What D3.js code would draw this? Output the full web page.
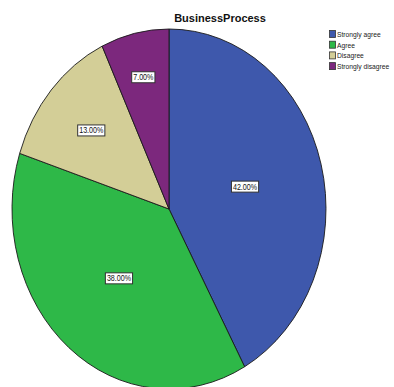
<!DOCTYPE html>
<html>
<head>
<meta charset="utf-8">
<script src="https://cdn.jsdelivr.net/npm/d3@7"></script>
<style>
  html, body { margin: 0; padding: 0; background: #fff; }
  svg { display: block; }
</style>
</head>
<body>
<svg id="chart" width="394" height="387"></svg>
<script>
// Response categories and their share of answers (percent)
const categories = ["Strongly agree", "Agree", "Disagree", "Strongly disagree"];
const percents = [42, 38, 13, 7];
const colors = ["#3e58ac", "#2eb848", "#d3ce97", "#7c287d"];
const title = "BusinessProcess";

const svg = d3.select("#chart");

// Pie geometry: the pie is drawn as an ellipse (taller than wide)
const cx = 169, cy = 209, rx = 157, ry = 180;
// radial position of each value label, as a fraction of the radius
const labelR = [0.5, 0.5, 0.66, 0.75];
// horizontal squeeze that gives the small texts a condensed look
const squeeze = 0.84;

const data = categories.map((c, i) => ({ cat: c, value: percents[i], color: colors[i], lr: labelR[i] }));

const pie = d3.pie().value(d => d.value).sort(null);
const arcs = pie(data);
const arc = d3.arc().innerRadius(0).outerRadius(rx);

const g = svg.append("g")
  .attr("transform", `translate(${cx},${cy}) scale(1,${ry / rx})`);

g.selectAll("path")
  .data(arcs)
  .join("path")
  .attr("d", arc)
  .attr("fill", d => d.data.color)
  .attr("stroke", "#1a1a1a")
  .attr("stroke-width", 0.9)
  .attr("vector-effect", "non-scaling-stroke");

// Value labels in white boxes
const fmt = v => v.toFixed(2) + "%";
const labels = svg.append("g")
  .style("font-family", "'Liberation Sans', Arial, sans-serif")
  .style("font-size", "8.5px");

arcs.forEach(a => {
  const mid = (a.startAngle + a.endAngle) / 2;
  const f = a.data.lr;
  const x = cx + rx * f * Math.sin(mid);
  const y = cy - ry * f * Math.cos(mid);
  const lg = labels.append("g").attr("transform", `translate(${x},${y})`);
  const t = lg.append("text")
    .attr("text-anchor", "middle")
    .attr("dy", "0.35em")
    .attr("transform", `scale(${squeeze},1)`)
    .attr("fill", "#111")
    .text(fmt(a.data.value));
  const bb = t.node().getBBox();
  const w = bb.width * squeeze;
  lg.insert("rect", "text")
    .attr("x", -w / 2 - 1.5)
    .attr("y", -5.5)
    .attr("width", w + 3)
    .attr("height", 11)
    .attr("fill", "#fff")
    .attr("stroke", "#333")
    .attr("stroke-width", 1);
});

// Title
svg.append("text")
  .attr("x", 220)
  .attr("y", 22)
  .attr("text-anchor", "middle")
  .style("font-family", "'Liberation Sans', Arial, sans-serif")
  .style("font-weight", "bold")
  .style("font-size", "11px")
  .attr("fill", "#111")
  .text(title);

// Legend
const legend = svg.append("g")
  .attr("transform", "translate(329,30)")
  .style("font-family", "'Liberation Sans', Arial, sans-serif")
  .style("font-size", "8px");

const rows = legend.selectAll("g")
  .data(data)
  .join("g")
  .attr("transform", (d, i) => `translate(0,${i * 10.7})`);

rows.append("rect")
  .attr("x", 0.5).attr("y", 0.5)
  .attr("width", 6).attr("height", 7)
  .attr("fill", d => d.color)
  .attr("stroke", "#333")
  .attr("stroke-width", 0.8);

rows.append("text")
  .attr("transform", `translate(8,7) scale(${squeeze},1)`)
  .attr("fill", "#222")
  .text(d => d.cat);
</script>
</body>
</html>
